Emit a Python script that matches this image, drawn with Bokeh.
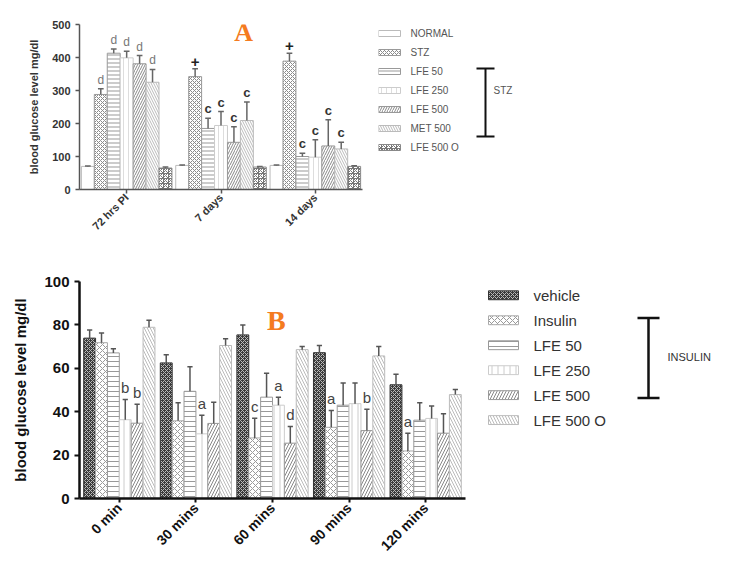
import math
from bokeh.plotting import figure
from bokeh.models import Range1d, FixedTicker, Label, ColumnDataSource
from bokeh.layouts import column, row
from bokeh.embed import file_html
from bokeh.resources import INLINE
from bokeh.core.properties import value

# ---------------- Panel A data ----------------
a_times = ["72 hrs PI", "7 days", "14 days"]
a_groups = ["NORMAL", "STZ", "LFE 50", "LFE 250", "LFE 500", "MET 500", "LFE 500 O"]
a_normal = [70, 73, 73]
a_stz = [288, 342, 389]
a_lfe50 = [413, 185, 100]
a_lfe250 = [399, 194, 98]
a_lfe500 = [381, 143, 132]
a_met500 = [325, 209, 123]
a_lfe500o = [65, 68, 70]
a_normal_sem = [1, 1, 1]
a_stz_sem = [17, 24, 24]
a_lfe50_sem = [13, 31, 10]
a_lfe250_sem = [20, 42, 53]
a_lfe500_sem = [25, 47, 79]
a_met500_sem = [39, 56, 20]
a_lfe500o_sem = [3, 2, 2]
a_normal_mark = ["", "", ""]
a_stz_mark = ["d", "+", "+"]
a_lfe50_mark = ["d", "c", "c"]
a_lfe250_mark = ["d", "c", "c"]
a_lfe500_mark = ["d", "c", "c"]
a_met500_mark = ["d", "c", "c"]
a_lfe500o_mark = ["", "", ""]
a_yticks = [0, 100, 200, 300, 400, 500]

# ---------------- Panel B data ----------------
b_times = ["0 min", "30 mins", "60 mins", "90 mins", "120 mins"]
b_groups = ["vehicle", "Insulin", "LFE 50", "LFE 250", "LFE 500", "LFE 500 O"]
b_vehicle = [73.9, 62.5, 75.4, 67.2, 52.4]
b_insulin = [71.8, 35.8, 27.9, 32.8, 21.9]
b_lfe50 = [67.1, 49.4, 46.7, 43.0, 36.1]
b_lfe250 = [36.3, 29.8, 43.0, 43.7, 36.9]
b_lfe500 = [34.7, 34.6, 25.5, 31.3, 30.1]
b_lfe500o = [78.9, 70.5, 68.6, 65.7, 47.9]
b_vehicle_sem = [3.7, 3.8, 4.5, 3.3, 4.9]
b_insulin_sem = [4.5, 8.3, 9.1, 7.8, 8.2]
b_lfe50_sem = [1.9, 11.3, 11.0, 10.2, 8.0]
b_lfe250_sem = [9.3, 8.6, 3.7, 9.5, 5.7]
b_lfe500_sem = [8.7, 9.8, 7.7, 9.8, 9.0]
b_lfe500o_sem = [3.3, 3.1, 1.5, 4.4, 2.3]
b_vehicle_mark = ["", "", "", "", ""]
b_insulin_mark = ["", "", "c", "a", "a"]
b_lfe50_mark = ["", "", "", "", ""]
b_lfe250_mark = ["b", "a", "a", "", ""]
b_lfe500_mark = ["b", "", "d", "b", ""]
b_lfe500o_mark = ["", "", "", "", ""]
b_yticks = [0, 20, 40, 60, 80, 100]

FONT = "Liberation Sans"

a_means = [a_normal, a_stz, a_lfe50, a_lfe250, a_lfe500, a_met500, a_lfe500o]
a_sems = [a_normal_sem, a_stz_sem, a_lfe50_sem, a_lfe250_sem, a_lfe500_sem, a_met500_sem, a_lfe500o_sem]
a_marks = [a_normal_mark, a_stz_mark, a_lfe50_mark, a_lfe250_mark, a_lfe500_mark, a_met500_mark, a_lfe500o_mark]
a_styles = [
    dict(fill_color="white", hatch_pattern=" ", hatch_color="#999", hatch_scale=5, line_color="#bbb"),
    dict(fill_color="white", hatch_pattern="diagonal_cross", hatch_color="#8a8a8a", hatch_scale=4, line_color="#999"),
    dict(fill_color="white", hatch_pattern="horizontal_line", hatch_color="#999", hatch_scale=4, line_color="#999"),
    dict(fill_color="white", hatch_pattern="vertical_line", hatch_color="#ddd", hatch_scale=5, line_color="#ccc"),
    dict(fill_color="white", hatch_pattern="right_diagonal_line", hatch_color="#888", hatch_scale=5, line_color="#999"),
    dict(fill_color="white", hatch_pattern="left_diagonal_line", hatch_color="#bbb", hatch_scale=5, line_color="#bbb"),
    dict(fill_color="white", hatch_pattern="criss_cross", hatch_color="#777", hatch_scale=5, line_color="#888"),
]
a_mark_styles = {"d": ("#777", "normal", "12px"), "+": ("#222", "bold", "15px"), "c": ("#333", "bold", "13px")}

b_means = [b_vehicle, b_insulin, b_lfe50, b_lfe250, b_lfe500, b_lfe500o]
b_sems = [b_vehicle_sem, b_insulin_sem, b_lfe50_sem, b_lfe250_sem, b_lfe500_sem, b_lfe500o_sem]
b_marks = [b_vehicle_mark, b_insulin_mark, b_lfe50_mark, b_lfe250_mark, b_lfe500_mark, b_lfe500o_mark]
b_styles = [
    dict(fill_color="#3a3a3a", hatch_pattern="diagonal_cross", hatch_color="#bbb", hatch_scale=4, line_color="#333"),
    dict(fill_color="white", hatch_pattern="diagonal_cross", hatch_color="#999", hatch_scale=6, line_color="#aaa"),
    dict(fill_color="white", hatch_pattern="horizontal_line", hatch_color="#999", hatch_scale=5, line_color="#999"),
    dict(fill_color="white", hatch_pattern="vertical_line", hatch_color="#ccc", hatch_scale=6, line_color="#ccc"),
    dict(fill_color="white", hatch_pattern="right_diagonal_line", hatch_color="#888", hatch_scale=6, line_color="#999"),
    dict(fill_color="white", hatch_pattern="left_diagonal_line", hatch_color="#bbb", hatch_scale=6, line_color="#bbb"),
]
b_mark_styles = {k: ("#444", "normal", "15px") for k in ("a", "b", "c", "d")}


def bar_panel(p, times, means, sems, marks, styles, group_frac, err_color, mark_styles, mark_off):
    n = len(means)
    bw = group_frac / n
    mx, my, mt, mc, ms, mz = [], [], [], [], [], []
    for j in range(n):
        off = -group_frac / 2 + bw * (j + 0.5)
        xs = [i + off for i in range(len(times))]
        tops = list(means[j])
        errs = [m + s for m, s in zip(means[j], sems[j])]
        src = ColumnDataSource(dict(x=xs, top=tops, err=errs,
                                    cl=[x - bw * 0.22 for x in xs], cr=[x + bw * 0.22 for x in xs]))
        p.vbar(x="x", top="top", width=bw, bottom=0, source=src, line_width=1, **styles[j])
        p.segment(x0="x", y0="top", x1="x", y1="err", source=src, line_color=err_color, line_width=1.5)
        p.segment(x0="cl", y0="err", x1="cr", y1="err", source=src, line_color=err_color, line_width=1.5)
        for x, e, t in zip(xs, errs, marks[j]):
            if t:
                c, s, z = mark_styles[t]
                mx.append(x); my.append(e + mark_off); mt.append(t)
                mc.append(c); ms.append(s); mz.append(z)
    msrc = ColumnDataSource(dict(x=mx, y=my, t=mt, c=mc, s=ms, z=mz))
    p.text(x="x", y="y", text="t", source=msrc, text_align="center", text_baseline="bottom",
           text_font=value(FONT), text_font_size="z", text_color="c", text_font_style="s")


def style_plot(p):
    p.xgrid.visible = False
    p.ygrid.visible = False
    p.outline_line_color = None
    p.background_fill_color = "white"
    p.border_fill_color = "white"


def legend_fig(w, h, top, bottom, y_top, y_bottom):
    # frame aligned with its neighbour; y coordinates in page pixels
    p = figure(width=w, height=h, x_range=Range1d(0, w), y_range=Range1d(y_bottom, y_top),
               output_backend="svg", toolbar_location=None,
               min_border_left=0, min_border_right=0, min_border_top=top, min_border_bottom=bottom,
               x_axis_location=None, y_axis_location=None)
    p.grid.visible = False
    p.outline_line_color = None
    return p


# ---------------- Figure A ----------------
figA = figure(width=378, height=248, x_range=Range1d(-0.5, 2.5), y_range=Range1d(0, 500),
              output_backend="svg", toolbar_location=None,
              min_border_left=79, min_border_right=16, min_border_top=24, min_border_bottom=59)
style_plot(figA)
bar_panel(figA, a_times, a_means, a_sems, a_marks, a_styles, 0.96, "#666", a_mark_styles, 6)
figA.xaxis.ticker = FixedTicker(ticks=list(range(len(a_times))))
figA.xaxis.major_label_overrides = {i: t for i, t in enumerate(a_times)}
figA.xaxis.major_label_orientation = math.pi / 4
figA.yaxis.ticker = FixedTicker(ticks=a_yticks)
figA.yaxis.axis_label = "blood glucose level mg/dl"
for ax in (figA.xaxis[0], figA.yaxis[0]):
    ax.axis_line_color = "#555"
    ax.axis_line_width = 1.5
    ax.major_tick_line_color = "#555"
    ax.major_tick_line_width = 1.5
    ax.major_tick_out = 4
    ax.major_tick_in = 0
    ax.minor_tick_line_color = None
    ax.major_label_text_font = FONT
    ax.major_label_text_font_style = "bold"
    ax.major_label_text_font_size = "11px"
    ax.major_label_text_color = "#333"
    ax.major_label_standoff = 5
figA.xaxis.major_label_standoff = 2
figA.yaxis.axis_label_text_font = FONT
figA.yaxis.axis_label_text_font_style = "bold"
figA.yaxis.axis_label_text_font_size = "11px"
figA.yaxis.axis_label_text_color = "#333"
figA.yaxis.axis_label_standoff = 9
figA.add_layout(Label(x=1.24, y=476, text="A", text_font="Liberation Serif", text_font_style="bold",
                      text_font_size="26px", text_color="#f47b20", text_align="center",
                      text_baseline="middle"))

# ---------------- Legend A ----------------
legA = legend_fig(351, 248, 24, 59, 24, 189)
for i, (g, st) in enumerate(zip(a_groups, a_styles)):
    yy = 33 + 19 * i
    legA.rect(x=[11], y=[yy], width=22, height=6, line_width=1, **st)
    legA.text(x=[32], y=[yy], text=[g], text_baseline="middle", text_font=value(FONT),
              text_font_size="10px", text_color="#555")
legA.segment(x0=[107, 98, 98], y0=[68, 68, 136], x1=[107, 116, 116], y1=[136, 68, 136],
             line_color="#111", line_width=2)
legA.text(x=[115], y=[90], text=["STZ"], text_baseline="middle", text_font=value(FONT),
          text_font_size="10px", text_color="#555")

# ---------------- Figure B ----------------
figB = figure(width=470, height=314, x_range=Range1d(-0.52, 4.52), y_range=Range1d(0, 100),
              output_backend="svg", toolbar_location=None,
              min_border_left=79, min_border_right=5, min_border_top=33, min_border_bottom=60)
style_plot(figB)
bar_panel(figB, b_times, b_means, b_sems, b_marks, b_styles, 0.93, "#555", b_mark_styles, 1.5)
figB.xaxis.ticker = FixedTicker(ticks=list(range(len(b_times))))
figB.xaxis.major_label_overrides = {i: t for i, t in enumerate(b_times)}
figB.xaxis.major_label_orientation = math.pi / 4
figB.yaxis.ticker = FixedTicker(ticks=b_yticks)
figB.yaxis.axis_label = "blood glucose level mg/dl"
for ax in (figB.xaxis[0], figB.yaxis[0]):
    ax.axis_line_color = "#111"
    ax.axis_line_width = 2.5
    ax.major_tick_line_color = "#111"
    ax.major_tick_line_width = 2
    ax.major_tick_out = 5
    ax.major_tick_in = 0
    ax.minor_tick_line_color = None
    ax.major_label_text_font = FONT
    ax.major_label_text_font_style = "bold"
    ax.major_label_text_font_size = "15px"
    ax.major_label_text_color = "#111"
    ax.major_label_standoff = 5
figB.xaxis.major_label_text_font_size = "14px"
figB.xaxis.major_label_standoff = 3
figB.xaxis.major_tick_out = 4
figB.yaxis.axis_label_text_font = FONT
figB.yaxis.axis_label_text_font_style = "bold"
figB.yaxis.axis_label_text_font_size = "15px"
figB.yaxis.axis_label_text_color = "#111"
figB.yaxis.axis_label_standoff = 12
figB.add_layout(Label(x=2.05, y=82, text="B", text_font="Liberation Serif", text_font_style="bold",
                      text_font_size="28px", text_color="#f47b20", text_align="center",
                      text_baseline="middle"))

# ---------------- Legend B ----------------
legB = legend_fig(259, 314, 33, 60, 282, 502)
for i, (g, st) in enumerate(zip(b_groups, b_styles)):
    yy = 296 + 25.3 * i
    legB.rect(x=[33], y=[yy], width=30, height=9, line_width=1, **st)
    legB.text(x=[63], y=[yy], text=[g], text_baseline="middle", text_font=value(FONT),
              text_font_size="15px", text_color="#333")
legB.segment(x0=[178, 167, 167], y0=[319, 319, 400], x1=[178, 189, 189], y1=[400, 319, 400],
             line_color="#111", line_width=2.5)
legB.text(x=[197], y=[359], text=["INSULIN"], text_baseline="middle", text_font=value(FONT),
          text_font_size="11px", text_color="#333")

layout = column(row(figA, legA), row(figB, legB), width=729, height=562,
                styles={"overflow": "hidden"})

open("out.html", "w").write(file_html(layout, INLINE))
